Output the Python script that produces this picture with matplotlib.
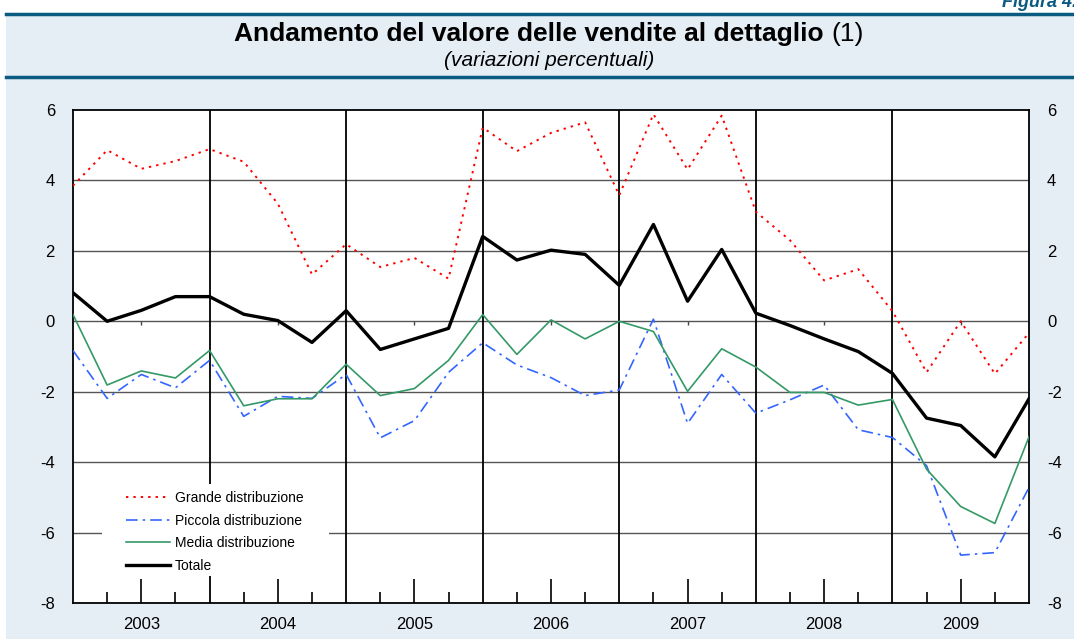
import numpy as np
import matplotlib.pyplot as plt
from matplotlib.lines import Line2D
from matplotlib.patches import Rectangle

plt.rcParams['font.family'] = ['Liberation Sans', 'DejaVu Sans']

# quarterly data, 2002 Q4 .. 2009 Q4
anni = ['2003', '2004', '2005', '2006', '2007', '2008', '2009']

grande = [3.85, 4.86, 4.33, 4.55, 4.89, 4.53, 3.34, 1.33, 2.19, 1.54, 1.80, 1.21,
          5.50, 4.83, 5.35, 5.65, 3.58, 5.88, 4.31, 5.84, 3.11, 2.30, 1.16, 1.48,
          0.29, -1.45, 0.0, -1.49, -0.33]
piccola = [-0.83, -2.19, -1.51, -1.89, -1.11, -2.70, -2.13, -2.19, -1.51, -3.31, -2.82, -1.45,
           -0.61, -1.24, -1.60, -2.11, -1.95, 0.06, -2.90, -1.51, -2.61, -2.23, -1.81, -3.08,
           -3.30, -4.10, -6.64, -6.57, -4.72]
media = [0.19, -1.81, -1.41, -1.61, -0.83, -2.40, -2.20, -2.20, -1.22, -2.11, -1.91, -1.11,
         0.19, -0.94, 0.04, -0.50, 0.0, -0.29, -1.99, -0.78, -1.30, -2.02, -2.02, -2.38,
         -2.22, -4.20, -5.26, -5.74, -3.28]
totale = [0.81, 0.0, 0.31, 0.70, 0.70, 0.20, 0.02, -0.60, 0.30, -0.80, -0.50, -0.20,
          2.41, 1.74, 2.02, 1.90, 1.02, 2.75, 0.57, 2.04, 0.23, -0.12, -0.50, -0.86,
          -1.48, -2.75, -2.96, -3.85, -2.20]

x = np.arange(len(totale))
blu = '#0B5A82'

fig = plt.figure(figsize=(10.74, 6.39), dpi=100)
W, H = 1074, 639

# sfondo e bande del titolo
fig.patches.append(Rectangle((6 / W, 0), 1 - 6 / W, 1 - 14 / H, transform=fig.transFigure,
                             facecolor='#E5EDF5', edgecolor='none', zorder=-10))
for yy in [14, 77]:
    fig.add_artist(Line2D([6 / W, 1], [1 - yy / H, 1 - yy / H], color=blu, lw=2.5))

fig.text(1002 / W, 1 - 7 / H, 'Figura 4.6', color=blu, fontsize=13,
         fontweight='bold', fontstyle='italic', va='baseline', ha='left')

# titolo: parte in grassetto + "(1)"
t1 = fig.text(0, 1 - 41 / H, 'Andamento del valore delle vendite al dettaglio ',
              fontsize=19, fontweight='bold', va='baseline', ha='left')
t2 = fig.text(0, 1 - 41 / H, '(1)', fontsize=19, va='baseline', ha='left')
r = fig.canvas.get_renderer()
w1 = t1.get_window_extent(r).width
w2 = t2.get_window_extent(r).width
x0 = 549 - (w1 + w2) / 2
t1.set_x(x0 / W)
t2.set_x((x0 + w1) / W)
fig.text(549 / W, 1 - 61 / H, '(variazioni percentuali)', fontsize=15, fontstyle='italic',
         ha='center', va='center')

ax = fig.add_axes([73 / W, 1 - 603 / H, (1029 - 73) / W, (603 - 110) / H])
ax.set_facecolor('white')
ax.set_xlim(0, len(totale) - 1)
ax.set_ylim(-8, 6)

# griglia
for v in np.arange(-6, 6, 2):
    ax.axhline(v, color='#555555', lw=1.0, zorder=1)
for k in range(1, len(anni)):
    ax.axvline(4 * k, color='black', lw=1.3, zorder=1)

ax.plot(x, grande, color='#FF0000', lw=1.4, ls=(0, (1.2, 2.6)), label='Grande distribuzione', zorder=3)
ax.plot(x, piccola, color='#3366FF', lw=1.2, ls=(0, (7, 3, 1.5, 3)), label='Piccola distribuzione', zorder=3)
ax.plot(x, media, color='#339966', lw=1.2, label='Media distribuzione', zorder=3)
ax.plot(x, totale, color='black', lw=2.4, label='Totale', zorder=4)

for s in ax.spines.values():
    s.set_color('black')
    s.set_linewidth(1.3)

ax.set_yticks(np.arange(-8, 7, 2))
ax.set_yticklabels([str(v) for v in np.arange(-8, 7, 2)])
ax.tick_params(axis='y', length=0, pad=13, labelsize=12, left=True, right=True,
               labelleft=True, labelright=True)

midyear = [4 * k + 2 for k in range(len(anni))]
ax.set_xticks(midyear)
ax.set_xticklabels(anni)
ax.set_xticks(np.arange(1, len(totale) - 1, 2), minor=True)
ax.tick_params(axis='x', which='major', direction='in', length=17, width=1.2, pad=10, labelsize=12)
ax.tick_params(axis='x', which='minor', direction='in', length=8, width=1.2)

# tacche sulla linea dello zero
sec = ax.secondary_xaxis(8 / 14)
sec.set_xticks(midyear)
sec.set_xticklabels([])
sec.tick_params(direction='in', length=3, width=1.0, colors='#444444')
sec.spines['bottom'].set_visible(False)
sec.spines['top'].set_visible(False)

# riquadro bianco della legenda
ax.add_patch(Rectangle(((102 - 73) / 956, (603 - 576) / 493), (329 - 102) / 956, (576 - 484) / 493,
                       transform=ax.transAxes, facecolor='white', edgecolor='none', zorder=4.5))
leg = ax.legend(loc='upper left', bbox_to_anchor=((126 - 73) / 956, (603 - 491) / 493),
                borderaxespad=0, borderpad=0, frameon=False,
                fontsize=10, handlelength=3.2, handletextpad=0.3, labelspacing=0.62)
leg.set_zorder(5)

fig.savefig('out.png', dpi=100)
